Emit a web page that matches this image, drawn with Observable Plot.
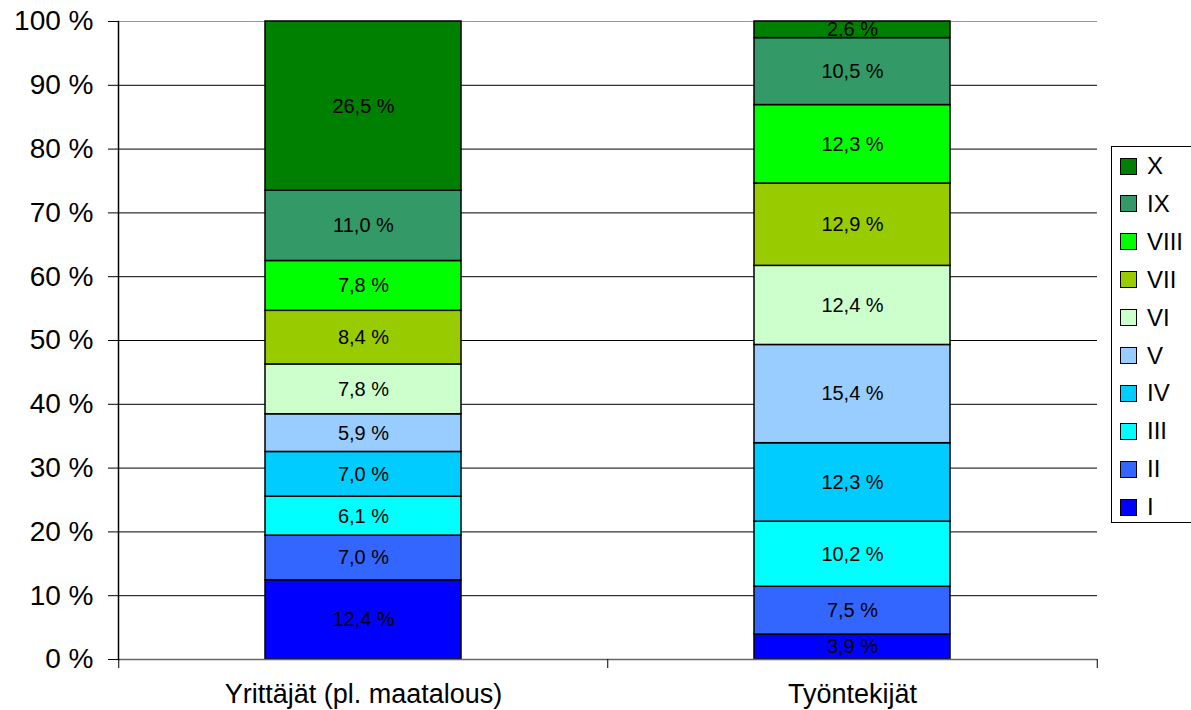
<!DOCTYPE html>
<html>
<head>
<meta charset="utf-8">
<script src="https://cdn.jsdelivr.net/npm/d3@7"></script>
<script src="https://cdn.jsdelivr.net/npm/@observablehq/plot@0.6"></script>
<style>
  html, body { margin: 0; padding: 0; background: #fff; }
  #wrap { position: relative; width: 1191px; height: 710px; font-family: "Liberation Sans", Arial, sans-serif; overflow: hidden; }
  #legend { position: absolute; left: 1111px; top: 146px; width: 82px; height: 377px; border: 1px solid #000; background: #fff; box-sizing: border-box; }
  .item { position: absolute; left: 8px; height: 24px; display: flex; align-items: center; font-size: 24px; color: #000; }
  .sw { width: 17px; height: 17px; border: 1px solid #000; box-sizing: border-box; margin-right: 10px; }
</style>
</head>
<body>
<div id="wrap"></div>
<script>
const categories = ["Yrittäjät (pl. maatalous)", "Työntekijät"];
const series = ["I", "II", "III", "IV", "V", "VI", "VII", "VIII", "IX", "X"];
const valuesYrittajat = [12.4, 7.0, 6.1, 7.0, 5.9, 7.8, 8.4, 7.8, 11.0, 26.5];
const valuesTyontekijat = [3.9, 7.5, 10.2, 12.3, 15.4, 12.4, 12.9, 12.3, 10.5, 2.6];
const colors = ["#0000FF", "#3366FF", "#00FFFF", "#00CCFF", "#99CCFF", "#CCFFCC", "#99CC00", "#00FF00", "#339966", "#008000"];
const yTickValues = [0, 10, 20, 30, 40, 50, 60, 70, 80, 90, 100];

const table = [];
[valuesYrittajat, valuesTyontekijat].forEach((vals, ci) => {
  vals.forEach((v, si) => table.push({category: categories[ci], series: series[si], value: v}));
});

const W = 1191, H = 710, mL = 118, mR = 94, mT = 21, mB = 51;
const step = (W - mL - mR) / categories.length;
const plotH = H - mT - mB;
const fmt = v => v.toFixed(1).replace(".", ",") + " %";
const font = "'Liberation Sans', Arial, sans-serif";

const stackOpts = {x: "category", y: "value", z: "series", offset: "normalize", order: null};

const chart = Plot.plot({
  width: W, height: H,
  marginLeft: mL, marginRight: mR, marginTop: mT, marginBottom: mB,
  style: {fontFamily: font, background: "#fff", color: "#000", overflow: "visible"},
  x: {domain: categories, paddingInner: 0.6, paddingOuter: 0.3, axis: null},
  y: {domain: [0, 1], axis: null},
  color: {domain: series, range: colors},
  marks: [
    Plot.ruleY(yTickValues.map(d => d / 100), {stroke: d => d === 1 ? "#999" : "#000", strokeWidth: 1}),
    Plot.barY(table, Plot.stackY({...stackOpts, fill: d => colors[series.indexOf(d.series)], stroke: "#000", strokeWidth: 1.5})),
    Plot.text(table, Plot.stackY({...stackOpts, text: d => fmt(d.value), fontSize: 20, fill: "#000"})),
    Plot.ruleY([0], {stroke: "#666", strokeWidth: 1.5}),
    Plot.frame({anchor: "left", stroke: "#000", strokeWidth: 1.5}),
    Plot.ruleX(categories, {x: d => d, dx: -step / 2, insetTop: plotH, insetBottom: -9, stroke: "#000"}),
    Plot.ruleX(categories.slice(-1), {x: d => d, dx: step / 2, insetTop: plotH, insetBottom: -9, stroke: "#000"}),
    Plot.axisY({ticks: yTickValues.map(d => d / 100), tickFormat: d => Math.round(d * 100) + " %", tickSize: 10, tickPadding: 15, fontSize: 28, stroke: "#000", label: null}),
    Plot.axisX({tickSize: 0, tickPadding: 24, fontSize: 27, label: null})
  ]
});

const wrap = document.getElementById("wrap");
wrap.appendChild(chart);

const legend = document.createElement("div");
legend.id = "legend";
series.slice().reverse().forEach((s, i) => {
  const item = document.createElement("div");
  item.className = "item";
  item.style.top = (19 + i * 37.9 - 12) + "px";
  const sw = document.createElement("div");
  sw.className = "sw";
  sw.style.background = colors[series.indexOf(s)];
  const lab = document.createElement("span");
  lab.textContent = s;
  item.appendChild(sw);
  item.appendChild(lab);
  legend.appendChild(item);
});
wrap.appendChild(legend);
</script>
</body>
</html>
